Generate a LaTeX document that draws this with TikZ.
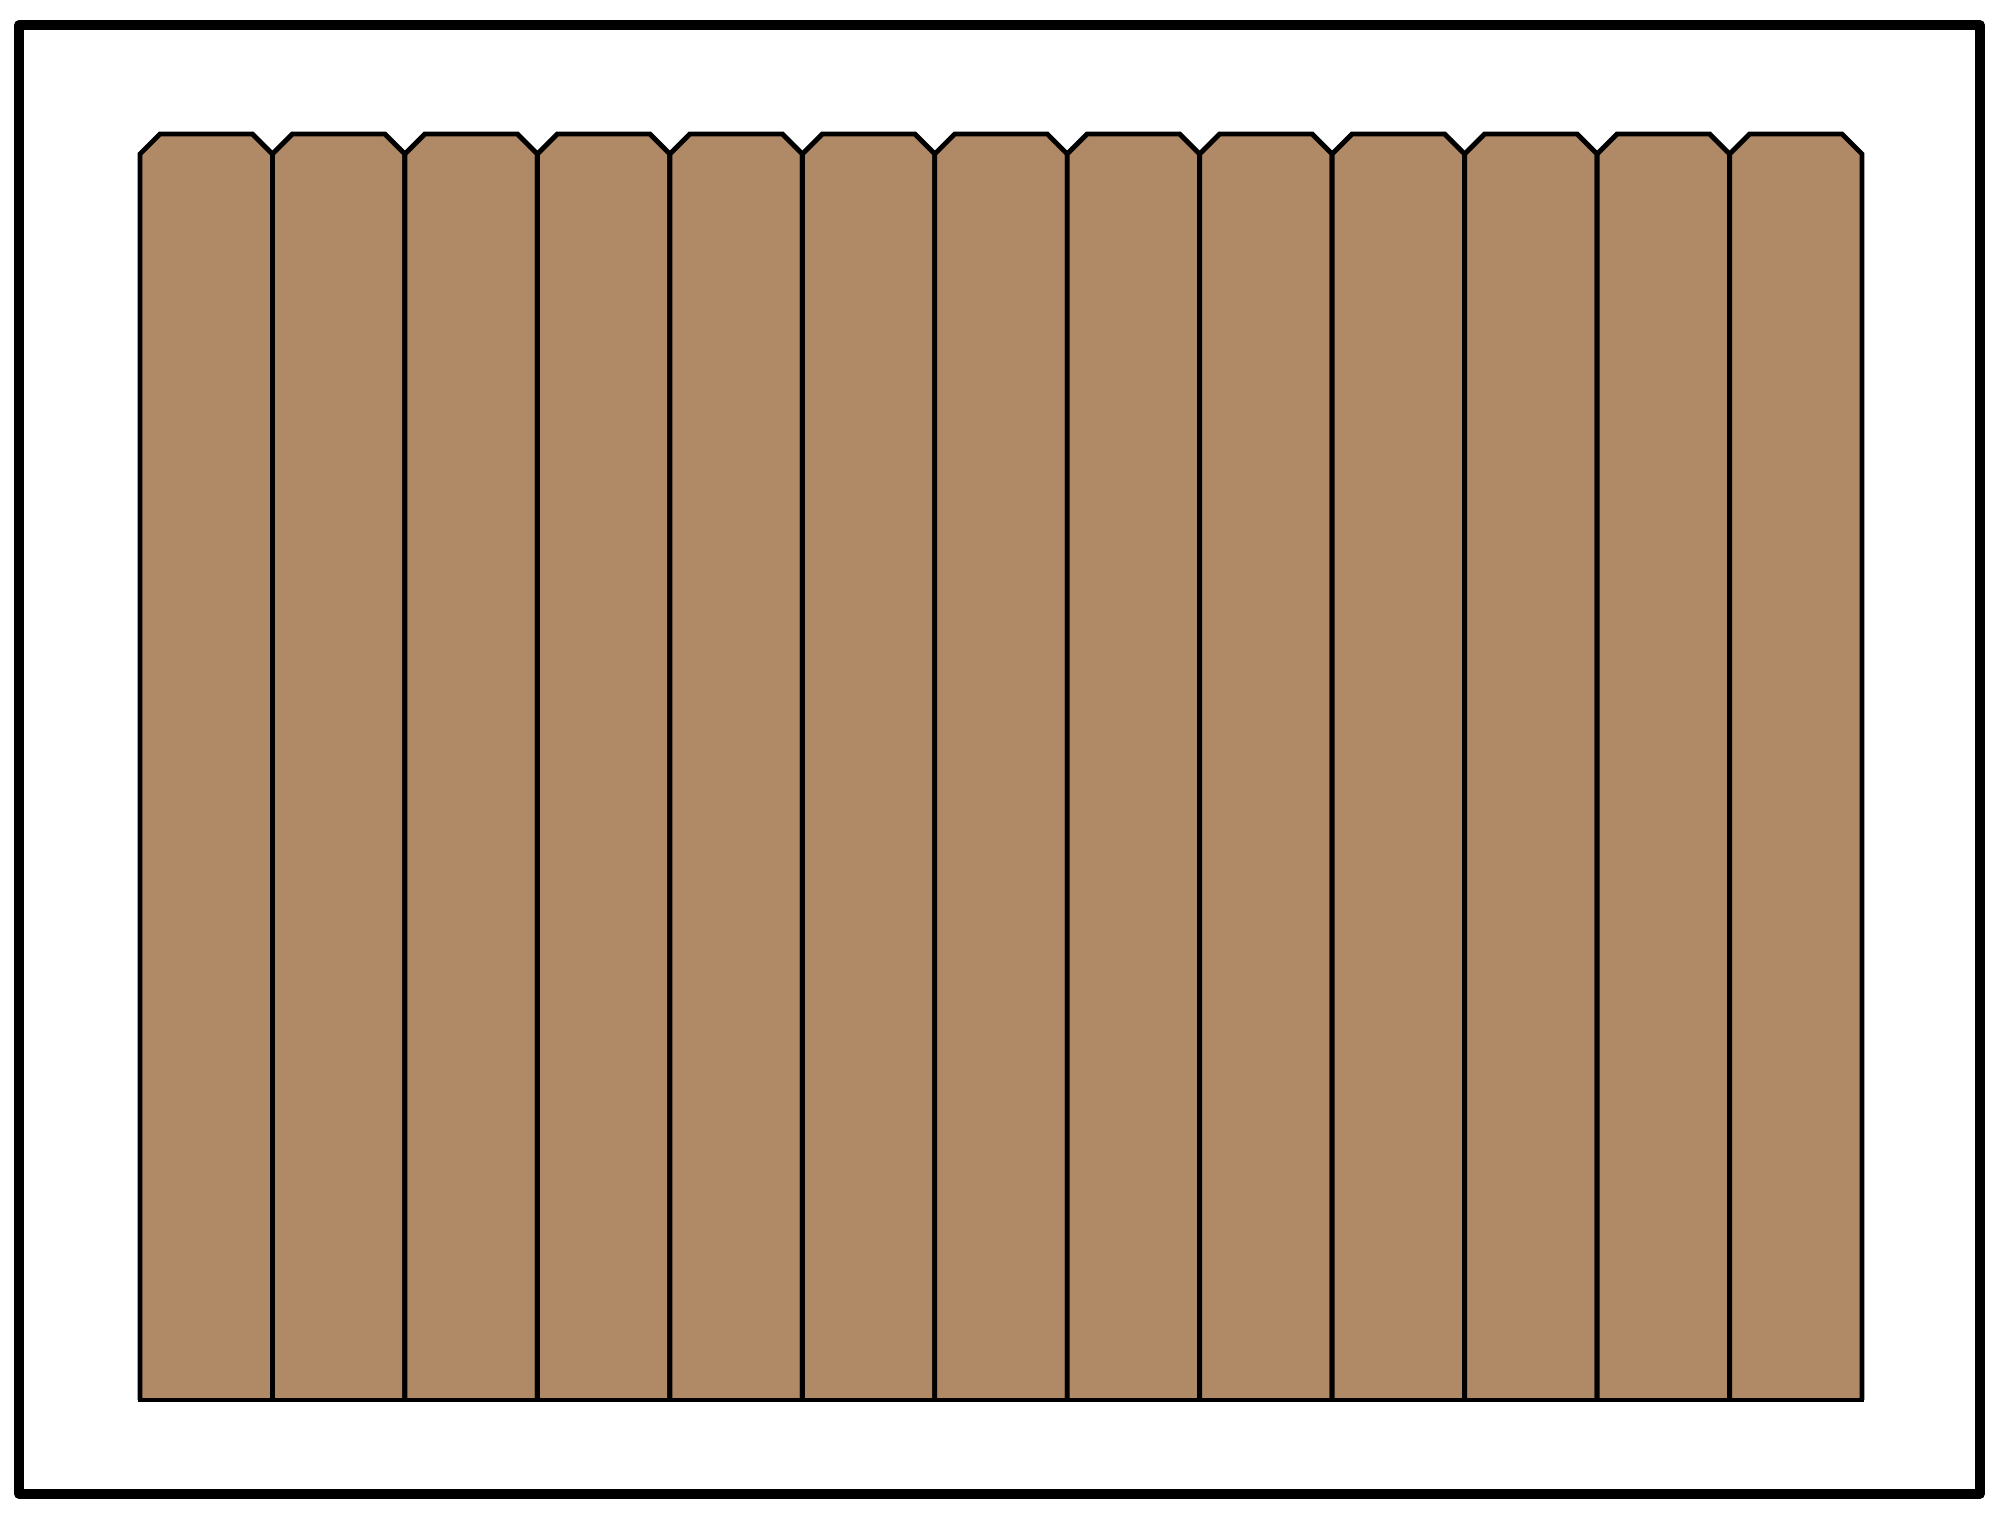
\documentclass[tikz,border=0pt]{standalone}
\usepackage{tikz}
\definecolor{picketwood}{RGB}{176,137,102}
\tikzset{
  fenceframe/.style={draw=black, line width=2.6pt, line join=round},
  picket/.style={draw=black, fill=picketwood, line width=1.4pt, line join=miter},
  baseline/.style={draw=black, line width=1.4pt, line cap=rect}
}
\begin{document}
\begin{tikzpicture}[x=0.01cm, y=-0.01cm]
\useasboundingbox (0,0) rectangle (2000,1519);
\draw[fenceframe] (19,25) rectangle (1980,1494);
\foreach \i in {0,...,12}{
  \pgfmathsetmacro{\xl}{140+132.46*\i}
  \pgfmathsetmacro{\xr}{\xl+132.46}
  \filldraw[picket] (\xl,1400) -- (\xl,154) -- ({\xl+20},134) -- ({\xr-20},134) -- (\xr,154) -- (\xr,1400);
}
\coordinate (fenceleft) at (140,1400);
\coordinate (fenceright) at (1862,1400);
\draw[baseline] (fenceleft) -- (fenceright);
\end{tikzpicture}
\end{document}
